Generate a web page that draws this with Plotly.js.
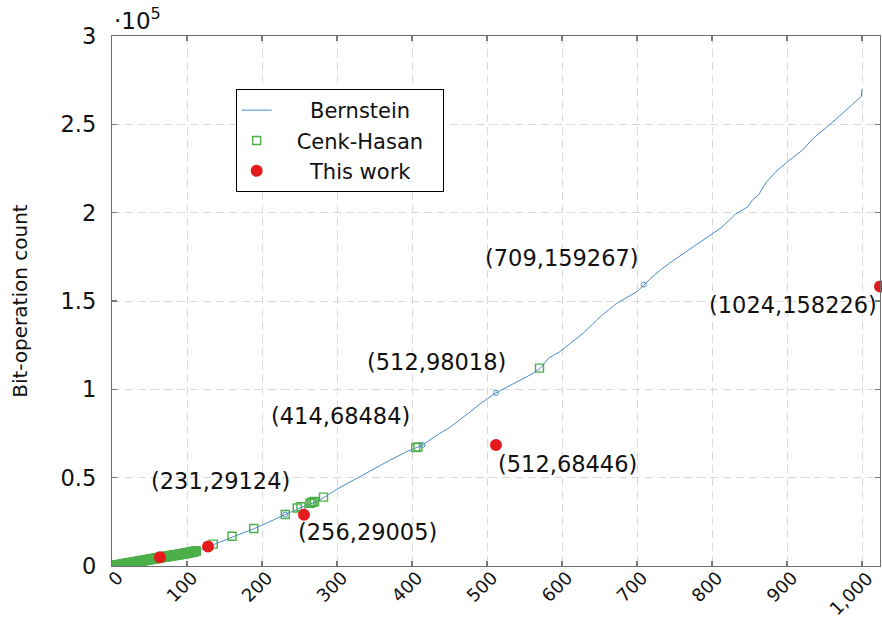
<!DOCTYPE html>
<html>
<head>
<meta charset="utf-8">
<script src="https://cdn.plot.ly/plotly-3.0.1.min.js"></script>
<style>html,body{margin:0;padding:0;background:#fff;}#chart{width:882px;height:617px;}</style>
</head>
<body>
<div id="chart"></div>
<script>
// Bernstein (line), values
var bernsteinN = [1, 20, 40, 64, 80, 100, 112, 128, 137, 163, 190, 231, 255, 272, 283, 300, 322, 344, 371, 393, 408, 414, 437, 450, 460, 491, 512, 540, 560, 571, 582, 597, 628, 651, 673, 700, 709, 717, 731, 746, 775, 801, 813, 831, 848, 853, 862, 872, 885, 901, 921, 935, 960, 980, 999, 1000];
var bernsteinY = [0, 1400, 2900, 4750, 5900, 7350, 8400, 10700, 12400, 16800, 21200, 29124, 33600, 36300, 38900, 43500, 48700, 54000, 60000, 64700, 67300, 68484, 75100, 78300, 81500, 91800, 98018, 104300, 108700, 111900, 117600, 121300, 131700, 141100, 148700, 155300, 159267, 162300, 167500, 172200, 180700, 187900, 191700, 199100, 203400, 206800, 210000, 217000, 223200, 228900, 235500, 242100, 250900, 258500, 265800, 270000];

// Cenk-Hasan (open squares)
var cenkN = [2, 4, 6, 8, 10, 12, 14, 16, 18, 20, 22, 24, 26, 28, 30, 32, 34, 36, 38, 40, 42, 44, 46, 48, 50, 52, 54, 56, 58, 60, 62, 64, 66, 68, 70, 72, 74, 76, 78, 80, 82, 84, 86, 88, 90, 92, 94, 96, 98, 100, 102, 104, 106, 108, 110, 112,
             135, 160, 189, 231, 247, 252, 264, 266, 268, 270, 282, 405, 408, 570];
var cenkY = [100, 240, 400, 560, 700, 840, 1010, 1150, 1300, 1440, 1610, 1750, 1900, 2060, 2200, 2340, 2510, 2650, 2800, 2960, 3100, 3240, 3410, 3550, 3700, 3860, 4000, 4140, 4310, 4450, 4600, 4760, 4890, 5040, 5170, 5320, 5450, 5590, 5740, 5870, 6020, 6150, 6290, 6440, 6580, 6730, 6870, 7030, 7170, 7330, 7500, 7680, 7850, 8040, 8220, 8420,
             12400, 16800, 21200, 29124, 32800, 33500, 35500, 35900, 36200, 36500, 39000, 67000, 67400, 112000];

// This work (red dots)
var thisN = [64, 128, 256, 512, 1024];
var thisY = [4900, 11100, 29005, 68446, 158226];

// highlighted Bernstein points
var markN = [231, 414, 512, 709];
var markY = [29124, 68484, 98018, 159267];

// point labels: text and label position (data units)
var labelText = ['(709,159267)', '(1024,158226)', '(512,98018)', '(414,68484)', '(512,68446)', '(231,29124)', '(256,29005)'];
var labelX = [600, 908, 432, 304, 607, 144, 340];
var labelY = [174300, 147700, 115500, 84900, 57700, 48100, 19200];

var xTicks = [0, 100, 200, 300, 400, 500, 600, 700, 800, 900, 1000];
var xTickText = ['0', '100', '200', '300', '400', '500', '600', '700', '800', '900', '1,000'];
var yTicks = [0, 50000, 100000, 150000, 200000, 250000, 300000];
var yTickText = ['0', '0.5', '1', '1.5', '2', '2.5', '3'];

var FONT = 'DejaVu Sans, sans-serif';
var blue = '#4a8ccc', green = '#4daf4a', red = '#e41a1c';
var NB = '\u00a0';

// split Cenk-Hasan into the dense small-n run and the sparse points
var denseN = [], denseY = [], sparseN = [], sparseY = [];
cenkN.forEach(function (n, i) {
  if (n <= 112) { denseN.push(n); denseY.push(cenkY[i]); }
  else { sparseN.push(n); sparseY.push(cenkY[i]); }
});

var traces = [
  {x: bernsteinN, y: bernsteinY, mode: 'lines', name: NB + NB + NB + NB + NB + 'Bernstein' + NB + NB + NB + NB,
   line: {color: blue, width: 1}},
  {x: denseN, y: denseY, mode: 'markers', showlegend: false,
   marker: {symbol: 'square', size: 9, color: green, line: {width: 1, color: green}}},
  {x: sparseN, y: sparseY, mode: 'markers', name: NB + NB + NB + 'Cenk-Hasan' + NB,
   marker: {symbol: 'square-open', size: 8, color: green, line: {width: 1.4, color: green}}},
  {x: thisN, y: thisY, mode: 'markers', name: NB + NB + NB + NB + NB + 'This work', cliponaxis: false,
   marker: {symbol: 'circle', size: 12, color: red}},
  {x: markN, y: markY, mode: 'markers', showlegend: false,
   marker: {symbol: 'circle-open', size: 5, color: blue, line: {width: 1, color: blue}}}
];

var annotations = labelText.map(function (t, i) {
  return {x: labelX[i], y: labelY[i], xref: 'x', yref: 'y', text: t, showarrow: false,
          font: {family: FONT, size: 22.5, color: '#111'}};
});
// rotated x tick labels
xTicks.forEach(function (v, i) {
  annotations.push({x: v, y: 0, xref: 'x', yref: 'paper', text: xTickText[i], textangle: -45,
    xanchor: 'right', yanchor: 'top', xshift: 16, yshift: 0, showarrow: false, borderpad: 0,
    font: {family: FONT, size: 18, color: '#111'}});
});
annotations.push({x: 0, y: 1.0, xref: 'paper', yref: 'paper', xanchor: 'left', yanchor: 'bottom',
  text: '·10<sup>5</sup>', showarrow: false, font: {family: FONT, size: 23, color: '#111'}});
annotations.push({x: -0.12, y: 0.5, xref: 'paper', yref: 'paper', xanchor: 'center', yanchor: 'middle',
  text: 'Bit-operation count', textangle: -90, showarrow: false, font: {family: FONT, size: 20, color: '#111'}});

var axisCommon = {
  showline: true, linecolor: '#6e6e6e', linewidth: 1.2, mirror: 'ticks',
  ticks: 'inside', ticklen: 5, tickcolor: '#7a7a7a', tickwidth: 1.2,
  showgrid: true, gridcolor: '#d9d9d9', griddash: '8px,5px', gridwidth: 1,
  zeroline: false, tickfont: {family: FONT, size: 22.5, color: '#111'}
};

var layout = {
  width: 882, height: 617,
  margin: {l: 112, r: 2, t: 36, b: 51},
  paper_bgcolor: '#fff', plot_bgcolor: '#fff',
  showlegend: true,
  xaxis: Object.assign({}, axisCommon, {range: [0, 1024], tickvals: xTicks, showticklabels: false}),
  yaxis: Object.assign({}, axisCommon, {range: [0, 300000], tickvals: yTicks, ticktext: yTickText, ticklabelstandoff: 10}),
  legend: {x: 0.161, y: 0.9, xanchor: 'left', yanchor: 'top', bgcolor: '#fff', bordercolor: '#000', borderwidth: 1,
           font: {family: FONT, size: 21, color: '#111'}},
  annotations: annotations
};

Plotly.newPlot('chart', traces, layout, {displayModeBar: false, staticPlot: true});
</script>
</body>
</html>
